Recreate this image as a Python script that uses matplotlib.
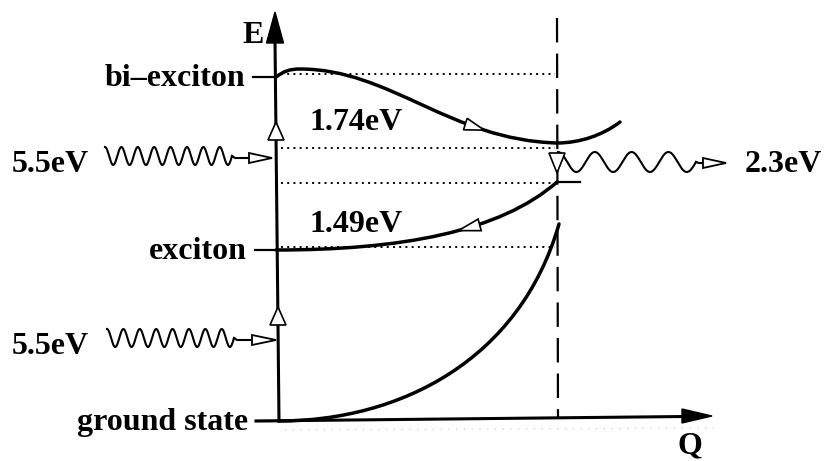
import numpy as np
import matplotlib

matplotlib.use("Agg")
import matplotlib.pyplot as plt  # noqa: E402
from matplotlib.path import Path  # noqa: E402
from matplotlib.patches import PathPatch, Polygon  # noqa: E402

# Energy levels on the E axis (pixel frame, y grows downwards)
level_names = ["bi–exciton", "exciton", "ground state"]
level_y = [77, 250, 421]
level_label_x = [245, 247, 248]

# Dotted guide lines running to the dashed Q position
guide_y = [74, 148, 183, 247]

# Potential curves, cubic Bezier control points
bi_curve = [(276, 77), (284, 71), (290, 69), (300, 69),
            (390, 69), (450, 140), (557, 143),
            (580, 143), (603, 135), (620, 122)]
exc_curve = [(276, 250), (400, 250), (500, 232), (557, 182)]
gnd_curve = [(279, 421), (400, 421), (520, 360), (559, 224)]

# Transition energies
pump_labels = ["5.5eV", "5.5eV"]
pump_y = [158, 340]
gap_labels = ["1.74eV", "1.49eV"]
gap_pos = [(310, 130), (310, 232)]
emit_label = "2.3eV"
emit_y = 163

Q_CROSS = 557

plt.rcParams["font.family"] = ["Liberation Serif", "DejaVu Serif"]
plt.rcParams["font.weight"] = "bold"
FS = 23

fig = plt.figure(figsize=(8.24, 4.61), dpi=100)
ax = fig.add_axes([0, 0, 1, 1])
ax.set_xlim(0, 824)
ax.set_ylim(461, 0)
ax.axis("off")


def bezier_patch(pts, lw=2.5):
    codes = [Path.MOVETO] + [Path.CURVE4] * (len(pts) - 1)
    ax.add_patch(PathPatch(Path(pts, codes), fill=False, lw=lw,
                           edgecolor="black", capstyle="round", zorder=3))


def bezier_at(pts, t):
    p = np.array(pts[:4], dtype=float)
    b = np.array([(1 - t) ** 3, 3 * (1 - t) ** 2 * t, 3 * (1 - t) * t ** 2, t ** 3])
    db = np.array([-3 * (1 - t) ** 2, 3 * (1 - t) ** 2 - 6 * (1 - t) * t,
                   6 * (1 - t) * t - 3 * t ** 2, 3 * t ** 2])
    return b @ p, db @ p


def open_head(tip, direction, length=20, half=5.5, lw=1.2, z=5):
    d = np.asarray(direction, float)
    d /= np.hypot(*d)
    n = np.array([-d[1], d[0]])
    tip = np.asarray(tip, float)
    base = tip - d * length
    ax.add_patch(Polygon([tip, base + n * half, base - n * half], closed=True,
                         facecolor="white", edgecolor="black", lw=lw, zorder=z))


def photon(x0, x1, yc, amp, periods, shaft_y, head_base, head_tip):
    xs = np.linspace(x0, x1, 400)
    s = (xs - x0) / (x1 - x0) * periods
    ys = yc - amp * np.cos(2 * np.pi * s)
    ax.plot(xs, ys, color="black", lw=1.5, zorder=4)
    ax.plot([x1, x1 + 3, head_base], [ys[-1], shaft_y, shaft_y],
            color="black", lw=1.5, zorder=4)
    open_head((head_tip, shaft_y), (1, 0), length=head_tip - head_base,
              half=5, lw=1.3)


# Axes with filled heads
ax.plot([279, 275], [421, 40], color="black", lw=2.2, zorder=2)
ax.add_patch(Polygon([(275, 12), (266.5, 43), (283.5, 43)], closed=True,
                     facecolor="black", edgecolor="black", lw=1, zorder=3))
ax.plot([256, 685], [421, 416.5], color="black", lw=2.2, zorder=2)
ax.add_patch(Polygon([(712, 416), (682, 409), (682, 423)], closed=True,
                     facecolor="black", edgecolor="black", lw=1, zorder=3))
ax.plot([285, 720], [430, 428], color="0.75", lw=0.8,
        linestyle=(0, (1, 6)), zorder=1)
ax.text(253, 43, "E", fontsize=FS, ha="center", va="baseline")
ax.text(690, 453, "Q", fontsize=FS, ha="center", va="baseline")

# Dashed configuration marker
ax.plot([Q_CROSS, Q_CROSS + 1], [18, 418], color="black", lw=1.6,
        linestyle=(0, (11, 5)), zorder=2)

# Dotted guides
for gy in guide_y:
    ax.plot([281, Q_CROSS - 2], [gy, gy], color="black", lw=1.4,
            linestyle=(0, (1, 2.2)), zorder=1)

# Level ticks and names
for name, ly, lx in zip(level_names, level_y, level_label_x):
    ax.plot([lx + 8, 277], [ly, ly], color="black", lw=1.6, zorder=2)
    ax.text(lx, ly + 9, name, fontsize=FS, ha="right", va="baseline")

# Potential curves
bezier_patch(bi_curve)
bezier_patch(exc_curve)
bezier_patch(gnd_curve)
ax.plot([Q_CROSS, 580], [182, 182], color="black", lw=1.6, zorder=3)

# Relaxation arrows along the curves
p, d = bezier_at(bi_curve[3:7], 0.75)
open_head(p, d, length=20, half=6)
p, d = bezier_at(exc_curve, 0.56)
open_head(p, -d, length=22, half=6)

# Vertical excitation arrows on the E axis
open_head((276, 122), (0, -1), length=18, half=8)
open_head((278, 307), (0, -1), length=18, half=8)
open_head((Q_CROSS, 173), (0, 1), length=20, half=8)

# Incoming and emitted photons
photon(105, 232, pump_y[0] - 2, 9, 7.75, pump_y[0], 249, 272)
photon(107, 234, pump_y[1] - 2, 9, 7.75, pump_y[1], 252, 276)
photon(558, 696, emit_y - 1, 10, 3.75, emit_y, 703, 726)

for lbl, py in zip(pump_labels, pump_y):
    ax.text(12, py + 14, lbl, fontsize=FS, ha="left", va="baseline")
for lbl, (gx, gy) in zip(gap_labels, gap_pos):
    ax.text(gx, gy, lbl, fontsize=FS, ha="left", va="baseline")
ax.text(745, emit_y + 9, emit_label, fontsize=FS, ha="left", va="baseline")

fig.savefig("out.png", dpi=100)
